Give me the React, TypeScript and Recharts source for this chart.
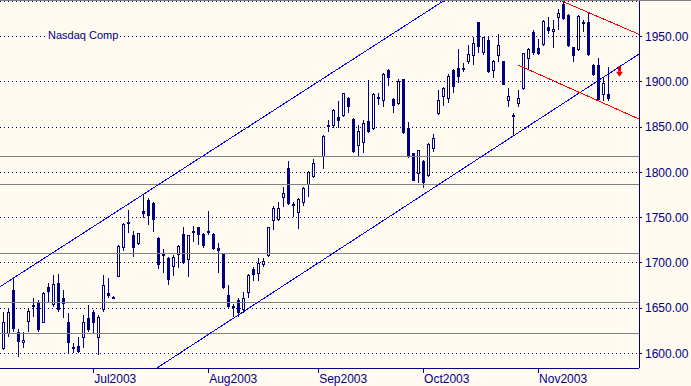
/**
 * Nasdaq Composite daily candles, Jun–Nov 2003, with trend channels.
 */
import React from 'react';
import { ComposedChart, Bar, Scatter, XAxis, YAxis, CartesianGrid, ReferenceLine } from 'recharts';

const NAVY = '#000080';
const BG = '#fffbf0';
const FONT = '"Liberation Sans", Arial, sans-serif';

// daily OHLC by trading-day slot; slot 63 is the Labor Day gap
const OPEN = [
  1604.4, 1621, 1670, 1624, 1611, 1635, 1651.5, 1657, 1633.9, 1673.6,
  1653.4, 1677.3, 1660.8, 1635, 1607.3, 1608, 1616.6, 1639, 1646, 1616.6,
  1647.9, 1666.3, 1662.6, 1684.7, 1716, 1745.5, 1730.8, 1720.4, 1757.3, 1769.4,
  1765.7, 1727.1, 1709.4, 1705.7, 1695, 1708.7, 1731.5, 1703.1, 1735.2, 1739.2,
  1731.9, 1735.2, 1731.9, 1716, 1710.5, 1664.4, 1652.3, 1658.9, 1647.9, 1666.3,
  1692.8, 1687.3, 1697.2, 1707.5, 1746.6, 1747.3, 1771.3, 1804.4, 1764.6, 1755.4,
  1766.5, 1786, 1795.2, null, 1817.3, 1851.9, 1851.2, 1860.8, 1862.6, 1881.7,
  1858.5, 1829.5, 1832.8, 1856.7, 1847.5, 1883.6, 1879.2, 1913.1, 1881, 1875.5,
  1903.1, 1849.3, 1821, 1798.1, 1812.5, 1795.9, 1826, 1864.1, 1883.6, 1881,
  1913.1, 1915.6, 1915, 1921.5, 1928.5, 1965.7, 1931.5, 1946.2, 1912.3, 1928.5,
  1923, 1878.8, 1863.3, 1875.1, 1891.7, 1924.8, 1955.4, 1937, 1940.7, 1960.2,
  1955.4, 1970.1, 1986, 1973.8, 1938.1, 1935.2, 1963.5, 1966.5, 1918.6, 1918.6,
  1885.4, 1886.5,
];
const HIGH = [
  1646, 1649.7, 1682.8, 1626.5, 1624, 1649.7, 1660.8, 1658.9, 1668.1, 1677.3,
  1686.5, 1687.3, 1670, 1644.2, 1611, 1618.4, 1642.3, 1653.4, 1647.9, 1642.3,
  1686.5, 1682.8, 1663, 1719.7, 1743.6, 1758.4, 1735.5, 1733, 1776, 1771.3,
  1766.8, 1728.9, 1715.3, 1706.8, 1708.7, 1719.7, 1740, 1730.8, 1741.1, 1740,
  1733.3, 1757.3, 1733.3, 1721.5, 1711.2, 1675.5, 1654.5, 1660.8, 1668.1, 1687.6,
  1695, 1705, 1705, 1740, 1762.8, 1767.6, 1783.4, 1812.5, 1767.6, 1771.3,
  1784.1, 1801.8, 1814.3, null, 1841.2, 1857.8, 1870, 1878.8, 1888, 1882.9,
  1859.6, 1852.3, 1857.8, 1902, 1887.3, 1888, 1910.1, 1913.8, 1881.7, 1902.7,
  1903.1, 1856, 1821.7, 1824.7, 1813.6, 1832.8, 1842.4, 1891, 1893.9, 1908.6,
  1914.2, 1935.9, 1921.2, 1940.7, 1949.9, 1965.7, 1949.9, 1949.2, 1924.1, 1952.5,
  1923, 1892.8, 1865.2, 1891, 1932.2, 1937, 1957.3, 1946.9, 1968.3, 1972,
  1968.3, 1980.1, 1989.3, 1974.6, 1938.8, 1973.8, 1968.3, 1977.5, 1919.3, 1926,
  1903.9, 1916.7,
];
const LOW = [
  1603.7, 1618.4, 1624, 1596.3, 1605.5, 1624, 1640.5, 1624, 1633.1, 1655.2,
  1651.5, 1646, 1638.7, 1600, 1600, 1600.7, 1605.5, 1624, 1622.1, 1598.1,
  1646, 1660.8, 1662.3, 1684.7, 1713.4, 1732.6, 1706.8, 1720, 1749.2, 1741.8,
  1733.7, 1693.2, 1688.4, 1675.5, 1685.8, 1694.7, 1698.3, 1684.7, 1723.4, 1719.7,
  1716, 1730.8, 1714.2, 1688.4, 1670.7, 1648.6, 1640.5, 1640.5, 1644.2, 1660.8,
  1680.3, 1680.3, 1695.7, 1706, 1736.3, 1746.6, 1762, 1763.9, 1751, 1737,
  1762.8, 1772.4, 1794.1, null, 1803.3, 1844.9, 1848.6, 1848.6, 1861.5, 1865.2,
  1821.7, 1818.4, 1821, 1843.8, 1846.8, 1874.4, 1872.5, 1895.4, 1865.9, 1874.4,
  1842.3, 1815.5, 1790.8, 1787.8, 1782.3, 1795.2, 1822, 1863.3, 1873.3, 1877,
  1888, 1898.3, 1911.2, 1919.7, 1918.6, 1931.5, 1929.6, 1910.1, 1903.9, 1922.3,
  1896.5, 1872.5, 1841, 1872.5, 1891, 1913.8, 1929.6, 1929.6, 1939.6, 1952.8,
  1937.7, 1957.3, 1968.3, 1938.8, 1922.3, 1934.4, 1955.4, 1928.9, 1906.4, 1879.9,
  1879.2, 1879.2,
];
const CLOSE = [
  1635, 1646, 1626.5, 1612.9, 1614.7, 1646.8, 1653.4, 1625.8, 1667, 1668.1,
  1676.6, 1647.9, 1654.1, 1611, 1605.9, 1601.8, 1635, 1625.8, 1633.1, 1639.8,
  1675.5, 1663.3, 1662.6, 1719, 1742.5, 1743.3, 1716, 1732.6, 1754, 1752.1,
  1747.3, 1697.6, 1707.9, 1681, 1706.8, 1718.6, 1700.2, 1730.8, 1733.3, 1730.8,
  1718.6, 1734.1, 1714.9, 1713.4, 1671.8, 1651.6, 1650.5, 1644.2, 1660.8, 1686.5,
  1686.5, 1699.4, 1702, 1739.2, 1761, 1761, 1776.8, 1764.6, 1763.2, 1770.1,
  1782.3, 1800, 1809.9, null, 1840.5, 1852.6, 1868.9, 1856.7, 1887.3, 1872.5,
  1822.8, 1846, 1854.9, 1844.9, 1886.5, 1881, 1908.6, 1904.6, 1873.6, 1900.9,
  1843.1, 1817.3, 1790.8, 1824.7, 1787.8, 1831.3, 1838, 1879.9, 1892.8, 1906.8,
  1893.9, 1905.7, 1915.6, 1930.7, 1942.5, 1938.1, 1949.2, 1911.2, 1923.4, 1940.7,
  1896.5, 1884.7, 1862.6, 1881.8, 1931.5, 1935.9, 1931.5, 1930.7, 1967.2, 1956.5,
  1958, 1976.4, 1969.4, 1939.6, 1928.9, 1972.7, 1966.5, 1929.6, 1907.5, 1879.9,
  1898.3, 1880.6,
];

// month ticks (slot index) and labels
const MONTH_TICKS = [18, 41, 63, 84, 107];
const MONTH_LABELS = ['Jul2003', 'Aug2003', 'Sep2003', 'Oct2003', 'Nov2003'];

const PRICE_TICKS = [1600, 1650, 1700, 1750, 1800, 1850, 1900, 1950];
const X_DOMAIN = [-0.66, 127.2];
const Y_DOMAIN = [1583.8, 1989.3];

// horizontal support / resistance levels
const LEVELS = [1818, 1786, 1710, 1656, 1622];

// trend lines as [slot, price] end points
const CHANNEL_UPPER = [[-0.66, 1673.6], [88.06, 1989.3]];
const CHANNEL_LOWER = [[30.74, 1583.8], [127.2, 1930.7]];
const WEDGE_UPPER = [[111.74, 1989.3], [127.2, 1952.5]];
const WEDGE_LOWER = [[103, 1918.6], [127.2, 1858.9]];

// sell signal marker
const SIGNAL = [{ i: 123.1, p: 1911.2 }];

const candles = OPEN.map((o, i) => ({ i, open: o, high: HIGH[i], low: LOW[i], close: CLOSE[i] }));

const CRISP = `
  .recharts-cartesian-axis-line,
  .recharts-cartesian-axis-tick-line,
  .recharts-cartesian-grid line,
  .recharts-reference-line-line { shape-rendering: crispEdges; }
`;

const Candle = (props: any) => {
  const { x, y, width, height, payload } = props;
  if (payload == null || payload.open == null) return null;
  const top = Math.min(y, y + height);
  const bot = Math.max(y, y + height);
  const span = payload.high - payload.low;
  const py = (v: number) => (span > 0 ? top + ((payload.high - v) / span) * (bot - top) : top);
  const cx = Math.floor(x + width / 2) + 0.5;
  const up = payload.close > payload.open;
  const bTop = Math.round(py(Math.max(payload.open, payload.close)));
  const bBot = Math.round(py(Math.min(payload.open, payload.close)));
  const h = bBot - bTop;
  return (
    <g>
      <line x1={cx} x2={cx} y1={Math.round(top)} y2={Math.round(bot)} stroke={NAVY} strokeWidth={1} />
      {h < 2 ? (
        <rect x={cx - 1.5} y={bTop} width={3} height={Math.max(h, 2)} fill={NAVY} />
      ) : up ? (
        <rect x={cx - 1} y={bTop + 0.5} width={2} height={h - 1} fill="#ffffff" stroke={NAVY} strokeWidth={1} />
      ) : (
        <rect x={cx - 1.5} y={bTop} width={3} height={h} fill={NAVY} />
      )}
    </g>
  );
};

const Arrow = (props: any) => {
  const { cx, cy } = props;
  const x = Math.round(cx) + 0.5;
  return (
    <g fill="#e00000">
      <rect x={x - 1.5} y={cy - 5.5} width={3} height={5.5} />
      <polygon points={`${x - 3.5},${cy} ${x + 3.5},${cy} ${x},${cy + 5}`} />
    </g>
  );
};

const MonthTick = (props: any) => {
  const { x, y, payload } = props;
  const label = MONTH_LABELS[MONTH_TICKS.indexOf(payload.value)];
  return (
    <text x={x + 1} y={y + 8} fill={NAVY} fontSize={12} fontFamily={FONT} textAnchor="start">
      {label}
    </text>
  );
};

const seg = (pts: number[][]) => pts.map(([x, y]) => ({ x, y }));

const App = () => {
  return (
    <div style={{ position: 'absolute', left: 0, top: 0, width: 691, height: 386, background: BG }}>
      <style>{CRISP}</style>
      <div style={{ height: 1, background: '#808080' }} />
      <ComposedChart width={691} height={385} data={candles} margin={{ top: 0, right: 0, bottom: 0, left: 0 }}>
        <CartesianGrid vertical={false} stroke={NAVY} strokeDasharray="1 3" />
        <XAxis
          dataKey="i"
          type="number"
          domain={X_DOMAIN}
          allowDataOverflow
          ticks={MONTH_TICKS}
          tick={<MonthTick />}
          tickSize={5}
          height={18}
          axisLine={{ stroke: NAVY }}
          tickLine={{ stroke: NAVY }}
        />
        <YAxis
          orientation="right"
          type="number"
          domain={Y_DOMAIN}
          allowDataOverflow
          ticks={PRICE_TICKS}
          tickFormatter={(v: number) => v.toFixed(2)}
          tickSize={3}
          tickMargin={3}
          width={52}
          axisLine={{ stroke: NAVY }}
          tickLine={{ stroke: NAVY }}
          tick={{ fill: NAVY, fontSize: 12, fontFamily: FONT, textAnchor: 'start' }}
        />
        {LEVELS.map((v) => (
          <ReferenceLine key={v} y={v} stroke="#808080" strokeWidth={1} />
        ))}
        <Bar dataKey={(d: any) => (d.open == null ? null : [d.low, d.high])} barSize={3} shape={<Candle />} isAnimationActive={false} />
        <ReferenceLine segment={seg(CHANNEL_UPPER)} stroke="#0000ff" ifOverflow="hidden" />
        <ReferenceLine segment={seg(CHANNEL_LOWER)} stroke="#0000ff" ifOverflow="hidden" />
        <ReferenceLine segment={seg(WEDGE_UPPER)} stroke="#ff0000" ifOverflow="hidden" />
        <ReferenceLine segment={seg(WEDGE_LOWER)} stroke="#ff0000" ifOverflow="hidden" />
        <Scatter data={SIGNAL} dataKey="p" shape={<Arrow />} isAnimationActive={false} />
      </ComposedChart>
      <div
        style={{
          position: 'absolute', left: 47, top: 29, padding: '0 1px', background: BG,
          color: NAVY, fontFamily: FONT, fontSize: 11, lineHeight: '12px', whiteSpace: 'nowrap',
        }}
      >
        Nasdaq Comp
      </div>
    </div>
  );
};

export default App;
